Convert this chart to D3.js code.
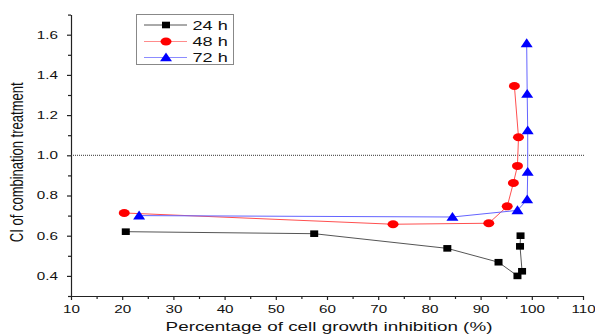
<!DOCTYPE html>
<html>
<head>
<meta charset="utf-8">
<script src="https://cdn.jsdelivr.net/npm/d3@7"></script>
<style>
  body { margin: 0; background: #fff; }
  text { font-family: Arial, "Liberation Sans", sans-serif; fill: #111; }
</style>
</head>
<body>
<div id="chart"></div>
<script>
// data (x = % inhibition, y = CI)
const x24 = [20.7, 57.5, 83.5, 93.5, 97.2, 98.1, 97.7, 97.8];
const y24 = [0.62, 0.61, 0.537, 0.468, 0.40, 0.423, 0.547, 0.60];
const x48 = [20.4, 72.9, 91.6, 95.2, 96.4, 97.2, 97.4, 96.6];
const y48 = [0.713, 0.657, 0.662, 0.746, 0.862, 0.947, 1.09, 1.345];
const x72 = [23.3, 84.5, 97.2, 99.1, 99.2, 99.2, 99.1, 99.0];
const y72 = [0.70, 0.693, 0.726, 0.78, 0.917, 1.124, 1.305, 1.557];
const seriesNames = ['24 h', '48 h', '72 h'];
const xTicks = [10, 20, 30, 40, 50, 60, 70, 80, 90, 100, 110];
const yTicks = [0.4, 0.6, 0.8, 1.0, 1.2, 1.4, 1.6];
const refLine = 1.0;

const W = 595, H = 336;
const SX = 1.45; // the original picture is stretched sideways

const svg = d3.select('#chart').append('svg')
  .attr('width', W)
  .attr('height', H);

const x = d3.scaleLinear().domain([10, 110]).range([71, 583]);
const y = d3.scaleLinear().domain([0.3, 1.7]).range([296, 14.6]);

// minor ticks first
svg.append('g')
  .attr('transform', `translate(0,${y(0.3)})`)
  .call(d3.axisBottom(x).tickValues(d3.range(15, 110, 10)).tickSize(3).tickFormat(''))
  .call(g => g.select('.domain').remove());
svg.append('g')
  .attr('transform', `translate(${x(10)},0)`)
  .call(d3.axisLeft(y).tickValues(d3.range(0.3, 1.71, 0.2)).tickSize(3).tickFormat(''))
  .call(g => g.select('.domain').remove());

// x axis
const xAxis = svg.append('g')
  .attr('transform', `translate(0,${y(0.3)})`)
  .call(d3.axisBottom(x).tickValues(xTicks).tickSize(4).tickPadding(6).tickSizeOuter(0));
xAxis.selectAll('text')
  .attr('font-size', 10.5)
  .attr('font-family', 'Arial, "Liberation Sans", sans-serif')
  .attr('transform', `scale(${SX},1)`);

// y axis
const yAxis = svg.append('g')
  .attr('transform', `translate(${x(10)},0)`)
  .call(d3.axisLeft(y).tickValues(yTicks).tickSize(4).tickPadding(5).tickSizeOuter(0)
    .tickFormat(d3.format('.1f')));
yAxis.selectAll('text')
  .attr('font-size', 10.5)
  .attr('font-family', 'Arial, "Liberation Sans", sans-serif')
  .attr('transform', `scale(${SX},1)`);

svg.selectAll('.domain, .tick line').attr('stroke', '#222').attr('stroke-width', 1.2);

// dotted reference line at CI = 1
svg.append('line')
  .attr('x1', x(10)).attr('x2', x(110) + 2)
  .attr('y1', y(refLine)).attr('y2', y(refLine))
  .attr('stroke', '#333')
  .attr('stroke-width', 1)
  .attr('stroke-dasharray', '1,1');

// axis titles
svg.append('text')
  .attr('transform', `translate(${(x(10) + x(110)) / 2 + 2},331) scale(${SX},1)`)
  .attr('text-anchor', 'middle')
  .attr('font-size', 13)
  .text('Percentage of cell growth inhibition (%)');

svg.append('text')
  .attr('transform', `translate(22.5,${y(1.0) + 7}) scale(${SX},1) rotate(-90)`)
  .attr('text-anchor', 'middle')
  .attr('font-size', 13)
  .text('CI of combination treatment');

// marker drawing helpers
function drawMarker(g, shape, color) {
  if (shape === 'square') {
    g.append('rect').attr('x', -4).attr('y', -3.3).attr('width', 8).attr('height', 6.6).attr('fill', color);
  } else if (shape === 'circle') {
    g.append('ellipse').attr('rx', 5.5).attr('ry', 4).attr('fill', color);
  } else {
    g.append('path').attr('d', 'M0,-5L6,3.8L-6,3.8Z').attr('fill', color);
  }
}

const series = [
  { name: seriesNames[0], xs: x24, ys: y24, line: '#555', fill: '#000', shape: 'square' },
  { name: seriesNames[1], xs: x48, ys: y48, line: '#ff5050', fill: '#ff0000', shape: 'circle' },
  { name: seriesNames[2], xs: x72, ys: y72, line: '#6464ff', fill: '#0000ff', shape: 'triangle' }
];

const line = d3.line().x(d => x(d[0])).y(d => y(d[1]));

series.forEach(s => {
  const pts = s.xs.map((v, i) => [v, s.ys[i]]);
  svg.append('path')
    .datum(pts)
    .attr('fill', 'none')
    .attr('stroke', s.line)
    .attr('stroke-width', 1)
    .attr('d', line);
  pts.forEach(p => {
    const g = svg.append('g').attr('transform', `translate(${x(p[0])},${y(p[1])})`);
    drawMarker(g, s.shape, s.fill);
  });
});

// legend
const legend = svg.append('g');
legend.append('rect')
  .attr('x', 136.5).attr('y', 14.5)
  .attr('width', 97).attr('height', 50)
  .attr('fill', '#fff')
  .attr('stroke', '#888')
  .attr('stroke-width', 1);

const legendLine = ['#555', '#ff8c8c', '#8c8cff'];
const rowY = [25, 41.5, 57.5];
series.forEach((s, i) => {
  legend.append('line')
    .attr('x1', 144).attr('x2', 187)
    .attr('y1', rowY[i]).attr('y2', rowY[i])
    .attr('stroke', legendLine[i])
    .attr('stroke-width', 1);
  drawMarker(legend.append('g').attr('transform', `translate(166,${rowY[i]})`), s.shape, s.fill);
  legend.append('text')
    .attr('transform', `translate(192.5,${rowY[i] + 4.5}) scale(${SX},1)`)
    .attr('font-size', 12.5)
    .text(s.name);
});
</script>
</body>
</html>
